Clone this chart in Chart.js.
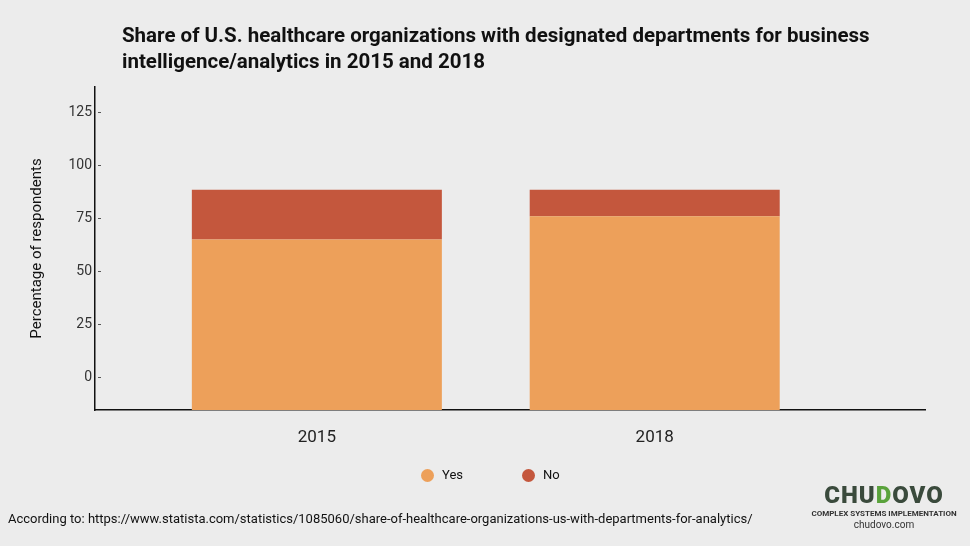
<!DOCTYPE html>
<html>
<head>
<meta charset="utf-8">
<script src="https://cdn.jsdelivr.net/npm/chart.js@4/dist/chart.umd.min.js"></script>
<style>
    html, body { margin: 0; padding: 0; background: #ececec; }
    #wrap { position: relative; width: 970px; height: 546px; overflow: hidden; font-family: Roboto, sans-serif; }
    #tmd-chart { position: absolute; left: 0; top: 0; }
    .title { position: absolute; left: 122px; top: 22px; font-size: 20.5px; font-weight: 700; line-height: 26px; color: #111; }
    .source { position: absolute; left: 8px; top: 511px; font-size: 13px; color: #111; }
    .logo { position: absolute; left: 789px; top: 483px; width: 190px; text-align: center; color: #3a4a3c; }
    .logo .name { font-size: 24px; font-weight: 900; letter-spacing: 1px; line-height: 24px; }
    .logo .name span { color: #5aa33c; }
    .logo .tag { font-size: 8px; font-weight: 700; line-height: 11px; color: #333; margin-top: 1px; }
    .logo .url { font-size: 10px; line-height: 12px; color: #333; }
    #legend { position: absolute; left: 421px; top: 466px; display: flex; font-size: 13px; color: #111; line-height: 18px; }
    #legend .item { display: flex; align-items: center; width: 101px; }
    #legend .dot { width: 13px; height: 13px; border-radius: 50%; margin-right: 8px; }
</style>
</head>
<body>
<div id="wrap">
    <canvas id="tmd-chart" width="970" height="546"></canvas>
    <div class="title">Share of U.S. healthcare organizations with designated departments for business<br>intelligence/analytics in 2015 and 2018</div>
    <div id="legend"></div>
    <div class="source">According to: https://www.statista.com/statistics/1085060/share-of-healthcare-organizations-us-with-departments-for-analytics/</div>
    <div class="logo">
        <div class="name">CHU<span>D</span>OVO</div>
        <div class="tag">COMPLEX SYSTEMS IMPLEMENTATION</div>
        <div class="url">chudovo.com</div>
    </div>
</div>
<script>
// data
const years    = [2015, 2018];
const yesShare = [65, 76];
const noShare  = [23.5, 12.5];
const yTicks   = [0, 25, 50, 75, 100, 125];

const yMin = -15.5;
const yMax = 137;

/* little dashes next to the y tick labels */
const tickDash = {
    id: 'tickDash',
    afterDraw(chart) {
        const ctx = chart.ctx;
        const y = chart.scales.y;
        const left = chart.chartArea.left;
        ctx.save();
        ctx.strokeStyle = '#555';
        ctx.lineWidth = 1;
        y.ticks.forEach(function (t) {
            const py = Math.round(y.getPixelForValue(t.value)) + 0.5;
            ctx.beginPath();
            ctx.moveTo(left + 3, py);
            ctx.lineTo(left + 6, py);
            ctx.stroke();
        });
        ctx.restore();
    }
};

const tmd_ctx = document.getElementById('tmd-chart');
const chart = new Chart(tmd_ctx, {
    type: 'bar',
    data: {
        labels: years,
        datasets: [{
            label: 'Yes',
            data: years.map((yr, i) => ({ x: yr, y: yesShare[i] })),
            backgroundColor: '#eda05a',
            base: yMin
        }, {
            label: 'No',
            data: years.map((yr, i) => ({ x: yr, y: noShare[i] })),
            backgroundColor: '#c4573d'
        }]
    },
    options: {
        responsive: false,
        animation: false,
        datasets: {
            bar: { categoryPercentage: 1, barPercentage: 0.74 }
        },
        layout: {
            padding: { top: 87, left: 20, right: 45, bottom: 88 }
        },
        plugins: {
            legend: { display: false },
            tooltip: { enabled: false },
            title: { display: false }
        },
        scales: {
            x: {
                type: 'linear',
                min: 2013.03,
                max: 2020.4,
                stacked: true,
                offset: false,
                grid: { display: false, drawTicks: false },
                border: { display: true, color: '#111', width: 1.5 },
                afterBuildTicks(scale) {
                    scale.ticks = years.map(v => ({ value: v }));
                },
                afterFit(scale) {
                    scale.height = 48;
                },
                ticks: {
                    padding: 18,
                    color: '#222',
                    font: { family: 'Roboto', size: 17 },
                    callback: v => String(v)
                }
            },
            y: {
                stacked: true,
                min: yMin,
                max: yMax,
                grid: { display: false, drawTicks: false },
                border: { display: true, color: '#111', width: 1.5 },
                afterBuildTicks(scale) {
                    scale.ticks = yTicks.map(v => ({ value: v }));
                },
                afterFit(scale) {
                    scale.width = 75;
                },
                title: {
                    display: true,
                    text: 'Percentage of respondents',
                    color: '#111',
                    font: { family: 'Roboto', size: 15 },
                    padding: { top: 8, bottom: 0 }
                },
                ticks: {
                    padding: 3,
                    color: '#333',
                    font: { family: 'Roboto', size: 14 }
                }
            }
        }
    },
    plugins: [tickDash]
});

// html legend from the datasets
const legend = document.getElementById('legend');
chart.data.datasets.forEach(function (ds) {
    const item = document.createElement('div');
    item.className = 'item';
    const dot = document.createElement('span');
    dot.className = 'dot';
    dot.style.background = ds.backgroundColor;
    const txt = document.createElement('span');
    txt.textContent = ds.label;
    item.appendChild(dot);
    item.appendChild(txt);
    legend.appendChild(item);
});
</script>
</body>
</html>
